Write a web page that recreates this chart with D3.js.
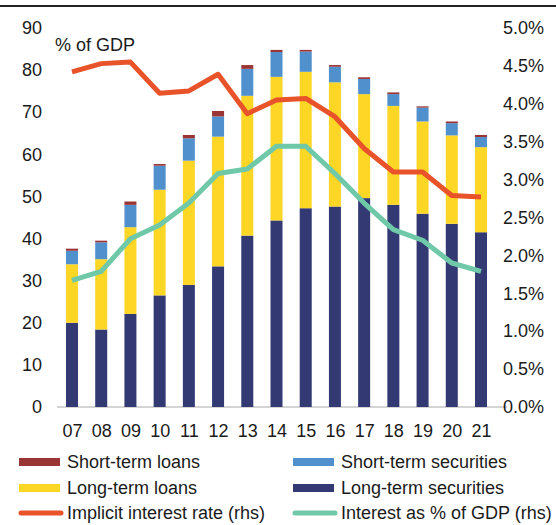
<!DOCTYPE html>
<html>
<head>
<meta charset="utf-8">
<script src="https://cdn.jsdelivr.net/npm/d3@7"></script>
<style>
  body { margin: 0; background: #fff; }
  svg { display: block; font-family: "Liberation Sans", Arial, sans-serif; }
</style>
</head>
<body>
<svg id="chart" width="556" height="525"></svg>
<script>
// data, % of GDP (bars) and % (lines, rhs)
var years = ['07', '08', '09', '10', '11', '12', '13', '14', '15', '16', '17', '18', '19', '20', '21'];
var longTermSecurities = [20.0, 18.4, 22.1, 26.5, 29.0, 33.4, 40.7, 44.3, 47.2, 47.6, 49.6, 48.0, 45.9, 43.5, 41.5];
var longTermLoans = [13.9, 16.7, 20.6, 25.1, 29.5, 30.8, 33.2, 34.1, 32.4, 29.5, 24.7, 23.5, 21.9, 21.0, 20.2];
var shortTermSecurities = [3.2, 4.0, 5.3, 5.7, 5.3, 4.8, 6.4, 5.9, 4.8, 3.7, 3.6, 2.8, 3.3, 2.9, 2.4];
var shortTermLoans = [0.5, 0.4, 0.8, 0.4, 0.8, 1.3, 0.9, 0.5, 0.4, 0.4, 0.4, 0.4, 0.3, 0.4, 0.5];
var implicitRate = [4.42, 4.53, 4.55, 4.14, 4.17, 4.39, 3.87, 4.05, 4.07, 3.83, 3.41, 3.10, 3.10, 2.79, 2.77];
var interestGdp = [1.67, 1.79, 2.22, 2.40, 2.69, 3.08, 3.14, 3.44, 3.44, 3.08, 2.69, 2.34, 2.20, 1.90, 1.79];
var leftTicks = [0, 10, 20, 30, 40, 50, 60, 70, 80, 90];
var rightTicks = [0, 0.5, 1, 1.5, 2, 2.5, 3, 3.5, 4, 4.5, 5];

var seriesKeys = ['ltSec', 'ltLoans', 'stSec', 'stLoans'];
var colors = {
  ltSec: '#333a73',
  ltLoans: '#fdd626',
  stSec: '#4f90cd',
  stLoans: '#9a3435',
  rate: '#e8532a',
  gdp: '#6fc8a8'
};

var table = years.map(function(y, i) {
  return {year: y, ltSec: longTermSecurities[i], ltLoans: longTermLoans[i],
    stSec: shortTermSecurities[i], stLoans: shortTermLoans[i]};
});

var svg = d3.select('#chart');
var fontSize = 18;
var textColor = '#1a1a1a';

var x = d3.scalePoint().domain(years).range([72, 481]);
var y = d3.scaleLinear().domain([0, 90]).range([407, 28]);
var y2 = d3.scaleLinear().domain([0, 5]).range([407, 28]);
var barWidth = 12;

// rule at the very top (remains of the page header)
svg.append('line')
  .attr('x1', 0).attr('x2', 556)
  .attr('y1', 6).attr('y2', 6)
  .attr('stroke', '#222').attr('stroke-width', 2);

// baseline
svg.append('line')
  .attr('x1', 57).attr('x2', 507)
  .attr('y1', y(0)).attr('y2', y(0))
  .attr('stroke', '#d4d4d4').attr('stroke-width', 2);

// stacked bars
var stacked = d3.stack().keys(seriesKeys)(table);
svg.append('g').selectAll('g')
  .data(stacked)
  .join('g')
    .attr('fill', d => colors[d.key])
  .selectAll('rect')
  .data(d => d)
  .join('rect')
    .attr('x', d => x(d.data.year) - barWidth / 2)
    .attr('width', barWidth)
    .attr('y', d => y(d[1]))
    .attr('height', d => y(d[0]) - y(d[1]));

// lines on the right axis
var line = d3.line()
  .x((d, i) => x(years[i]))
  .y(d => y2(d));

[['rate', implicitRate], ['gdp', interestGdp]].forEach(function(s) {
  svg.append('path')
    .datum(s[1])
    .attr('d', line)
    .attr('fill', 'none')
    .attr('stroke', colors[s[0]])
    .attr('stroke-width', 5)
    .attr('stroke-linejoin', 'round');
});

// left axis
var leftAxis = d3.axisLeft(y).tickValues(leftTicks).tickSize(0).tickPadding(0);
var gl = svg.append('g').attr('transform', 'translate(42,0)').call(leftAxis);
// right axis
var rightAxis = d3.axisRight(y2).tickValues(rightTicks).tickSize(0).tickPadding(0)
  .tickFormat(d => d3.format('.1f')(d) + '%');
var gr = svg.append('g').attr('transform', 'translate(503,0)').call(rightAxis);
// bottom axis
var bottomAxis = d3.axisBottom(x).tickSize(0).tickPadding(0);
var gb = svg.append('g').attr('transform', 'translate(0,424)').call(bottomAxis);

[gl, gr, gb].forEach(function(g) {
  g.select('.domain').remove();
  g.selectAll('text')
    .attr('font-size', fontSize)
    .attr('font-family', '"Liberation Sans", Arial, sans-serif')
    .attr('fill', textColor);
});

svg.append('text')
  .attr('x', 55).attr('y', 51)
  .attr('font-size', fontSize)
  .attr('fill', textColor)
  .text('% of GDP');

// legend
var legendItems = [
  {label: 'Short-term loans', key: 'stLoans', type: 'rect', col: 0, row: 0},
  {label: 'Short-term securities', key: 'stSec', type: 'rect', col: 1, row: 0},
  {label: 'Long-term loans', key: 'ltLoans', type: 'rect', col: 0, row: 1},
  {label: 'Long-term securities', key: 'ltSec', type: 'rect', col: 1, row: 1},
  {label: 'Implicit interest rate (rhs)', key: 'rate', type: 'line', col: 0, row: 2},
  {label: 'Interest as % of GDP (rhs)', key: 'gdp', type: 'line', col: 1, row: 2}
];
var colX = [19, 293];
var rowY = [462, 488, 513];

var legend = svg.append('g').selectAll('g')
  .data(legendItems)
  .join('g')
    .attr('transform', d => `translate(${colX[d.col]},${rowY[d.row]})`);

legend.filter(d => d.type === 'rect').append('rect')
  .attr('x', 0).attr('y', -4)
  .attr('width', 41).attr('height', 8)
  .attr('fill', d => colors[d.key]);

legend.filter(d => d.type === 'line').append('line')
  .attr('x1', 2).attr('x2', 42)
  .attr('y1', 0).attr('y2', 0)
  .attr('stroke', d => colors[d.key])
  .attr('stroke-width', 5)
  .attr('stroke-linecap', 'round');

legend.append('text')
  .attr('x', 48)
  .attr('y', 0)
  .attr('dy', '0.35em')
  .attr('font-size', fontSize)
  .attr('fill', textColor)
  .text(d => d.label);
</script>
</body>
</html>
